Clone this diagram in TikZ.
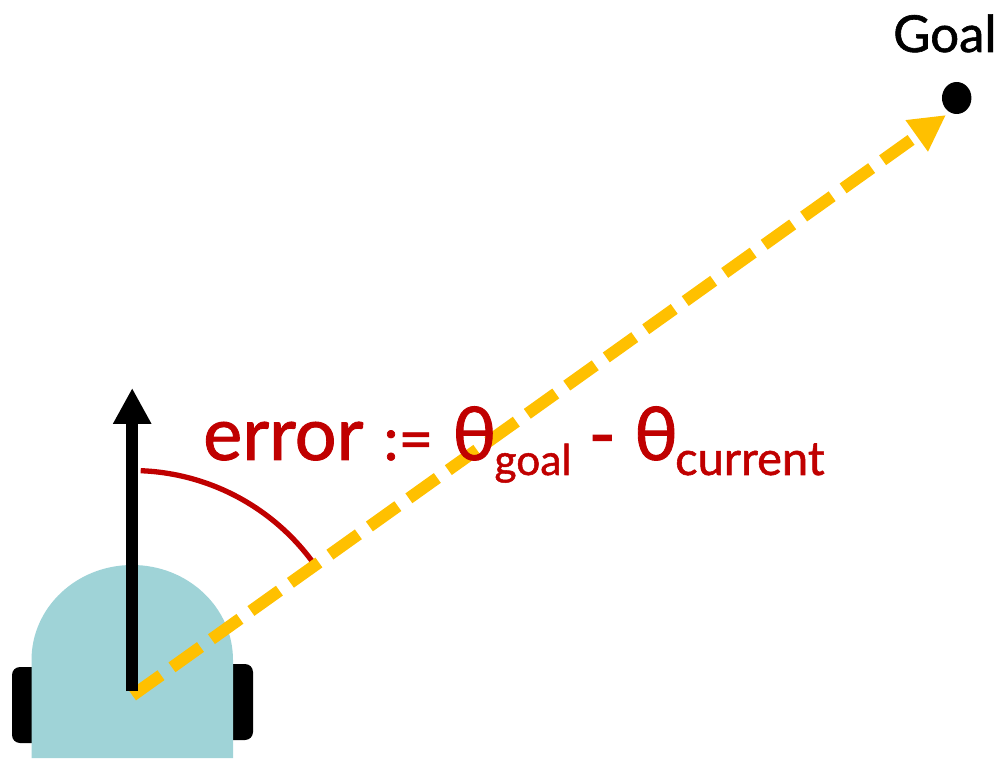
\documentclass[tikz,border=0pt]{standalone}
\usepackage{fontspec}
\newfontfamily\labfont{Lato}[RawFeature={embolden=1.2}]
\usetikzlibrary{arrows.meta}
\definecolor{bodyteal}{HTML}{9FD3D7}
\definecolor{pathyellow}{HTML}{FFC000}
\definecolor{errred}{HTML}{C00000}
\newcommand{\subtxt}[2]{\raisebox{-15pt}{\fontsize{#1}{#1}\selectfont #2}}
\newcommand{\mainsize}[1]{\fontsize{#1}{#1}\selectfont}
\tikzset{
  wheel/.style={fill=black,rounded corners=8pt},
  robotbody/.style={fill=bodyteal},
  heading/.style={line width=12pt,-{Triangle[length=36pt,width=36pt]},black},
  togoal/.style={line width=12pt,pathyellow,dash pattern=on 35pt off 13.5pt,-{Triangle[length=36pt,width=36pt]}},
  errarc/.style={line width=5.3pt,errred},
  lab/.style={inner sep=0pt,anchor=base west},
}
\begin{document}
\begin{tikzpicture}[x=1pt,y=-1pt]
\useasboundingbox (0,0) rectangle (1002,759);
\coordinate (origin) at (132.5,695.5);
\coordinate (tail) at (132.2,691);
\coordinate (headtip) at (132.2,388);
\coordinate (goalpt) at (946,115);
\coordinate (arcstart) at (140.7,470.7);
% wheels
\fill[wheel] (12,667) rectangle (40,743);
\fill[wheel] (225,664) rectangle (253,740);
% body
\path[robotbody] (31.5,758) -- (31.5,660)
  .. controls (31.5,607.5) and (76.5,565) .. (132.2,565)
  .. controls (187.9,565) and (233,607.5) .. (233,660) -- (233,758) -- cycle;
% error arc
\draw[errarc] (arcstart) arc[start angle=-87.8,end angle=-36.2,radius=224];
% yellow path
\draw[togoal] (origin) -- (goalpt);
% heading
\draw[heading] (tail) -- (headtip);
% goal
\node[fill=black,circle,inner sep=0pt,minimum size=32pt,xscale=.92] (goaldot) at (956.7,98) {};
\node[lab,font=\labfont\fontsize{51}{51}\selectfont] (goallabel) at (893,52) {Goal};
\node[lab,text=errred,font=\labfont\fontsize{74}{74}\selectfont] (errlabel) at (203,460)
  {error\kern20pt{\mainsize{60}:=}\kern19pt θ\kern-2pt\subtxt{42.5}{goal}\kern17pt-\kern18pt θ\kern-3pt\subtxt{47}{current}};
\end{tikzpicture}
\end{document}
